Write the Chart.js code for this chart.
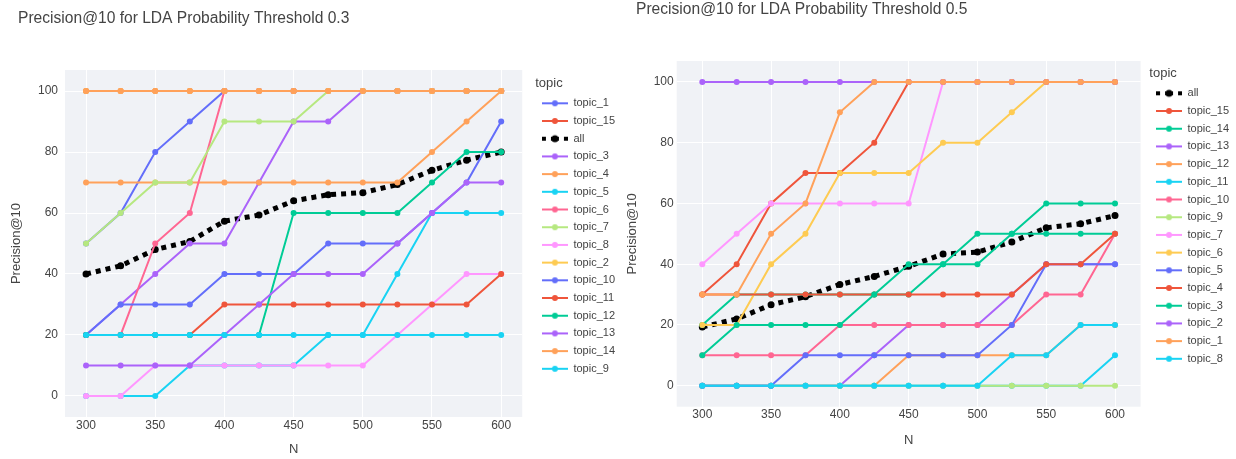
<!DOCTYPE html>
<html>
<head>
<meta charset="utf-8">
<script src="https://cdn.jsdelivr.net/npm/chart.js@4.4.0/dist/chart.umd.min.js"></script>
<style>
  html, body { margin: 0; padding: 0; background: #fff; }
  body { width: 1236px; height: 459px; position: relative; overflow: hidden; }
  .panel { position: absolute; top: 0; width: 628px; height: 459px; }
  #left { left: 0; }
  #right { left: 618px; }
</style>
</head>
<body>
<div class="panel" id="left"><canvas id="chart03"></canvas></div>
<div class="panel" id="right"><canvas id="chart05"></canvas></div>
<script>
// x categories (N) and tick labels
const nValues = [300, 325, 350, 375, 400, 425, 450, 475, 500, 525, 550, 575, 600];
const xTicks = [300, 350, 400, 450, 500, 550, 600];
const yTicks = [0, 20, 40, 60, 80, 100];

// threshold 0.3
const thr03_all = [40, 42.67, 48, 50.67, 57.33, 59.33, 64, 66, 66.67, 69.33, 74, 77.33, 80];
const thr03_topic_1 = [50, 60, 80, 90, 100, 100, 100, 100, 100, 100, 100, 100, 100];
const thr03_topic_15 = [100, 100, 100, 100, 100, 100, 100, 100, 100, 100, 100, 100, 100];
const thr03_topic_3 = [20, 30, 40, 50, 50, 70, 90, 90, 100, 100, 100, 100, 100];
const thr03_topic_4 = [70, 70, 70, 70, 70, 70, 70, 70, 70, 70, 80, 90, 100];
const thr03_topic_5 = [0, 0, 0, 10, 10, 10, 10, 20, 20, 40, 60, 60, 60];
const thr03_topic_6 = [20, 20, 50, 60, 100, 100, 100, 100, 100, 100, 100, 100, 100];
const thr03_topic_7 = [50, 60, 70, 70, 90, 90, 90, 100, 100, 100, 100, 100, 100];
const thr03_topic_8 = [0, 0, 10, 10, 10, 10, 10, 10, 10, 20, 30, 40, 40];
const thr03_topic_2 = [100, 100, 100, 100, 100, 100, 100, 100, 100, 100, 100, 100, 100];
const thr03_topic_10 = [20, 30, 30, 30, 40, 40, 40, 50, 50, 50, 60, 70, 90];
const thr03_topic_11 = [20, 20, 20, 20, 30, 30, 30, 30, 30, 30, 30, 30, 40];
const thr03_topic_12 = [20, 20, 20, 20, 20, 20, 60, 60, 60, 60, 70, 80, 80];
const thr03_topic_13 = [10, 10, 10, 10, 20, 30, 40, 40, 40, 50, 60, 70, 70];
const thr03_topic_14 = [100, 100, 100, 100, 100, 100, 100, 100, 100, 100, 100, 100, 100];
const thr03_topic_9 = [20, 20, 20, 20, 20, 20, 20, 20, 20, 20, 20, 20, 20];

// threshold 0.5
const thr05_all = [19.33, 22, 26.67, 29.33, 33.33, 36, 39.33, 43.33, 44, 47.33, 52, 53.33, 56];
const thr05_topic_15 = [30, 40, 60, 70, 70, 80, 100, 100, 100, 100, 100, 100, 100];
const thr05_topic_14 = [20, 30, 30, 30, 30, 30, 30, 40, 50, 50, 50, 50, 50];
const thr05_topic_13 = [0, 0, 0, 0, 0, 10, 20, 20, 20, 30, 40, 40, 40];
const thr05_topic_12 = [0, 0, 0, 0, 0, 0, 10, 10, 10, 10, 10, 20, 20];
const thr05_topic_11 = [0, 0, 0, 0, 0, 0, 0, 0, 0, 0, 0, 0, 10];
const thr05_topic_10 = [10, 10, 10, 10, 20, 20, 20, 20, 20, 20, 30, 30, 50];
const thr05_topic_9 = [0, 0, 0, 0, 0, 0, 0, 0, 0, 0, 0, 0, 0];
const thr05_topic_7 = [40, 50, 60, 60, 60, 60, 60, 100, 100, 100, 100, 100, 100];
const thr05_topic_6 = [20, 20, 40, 50, 70, 70, 70, 80, 80, 90, 100, 100, 100];
const thr05_topic_5 = [0, 0, 0, 10, 10, 10, 10, 10, 10, 20, 40, 40, 40];
const thr05_topic_4 = [30, 30, 30, 30, 30, 30, 30, 30, 30, 30, 40, 40, 50];
const thr05_topic_3 = [10, 20, 20, 20, 20, 30, 40, 40, 40, 50, 60, 60, 60];
const thr05_topic_2 = [100, 100, 100, 100, 100, 100, 100, 100, 100, 100, 100, 100, 100];
const thr05_topic_1 = [30, 30, 50, 60, 90, 100, 100, 100, 100, 100, 100, 100, 100];
const thr05_topic_8 = [0, 0, 0, 0, 0, 0, 0, 0, 0, 10, 10, 20, 20];

// legend / trace order as in the figure
const thr03_series = [
  ['topic_1', thr03_topic_1], ['topic_15', thr03_topic_15], ['all', thr03_all],
  ['topic_3', thr03_topic_3], ['topic_4', thr03_topic_4], ['topic_5', thr03_topic_5],
  ['topic_6', thr03_topic_6], ['topic_7', thr03_topic_7], ['topic_8', thr03_topic_8],
  ['topic_2', thr03_topic_2], ['topic_10', thr03_topic_10], ['topic_11', thr03_topic_11],
  ['topic_12', thr03_topic_12], ['topic_13', thr03_topic_13], ['topic_14', thr03_topic_14],
  ['topic_9', thr03_topic_9]
];
const thr05_series = [
  ['all', thr05_all], ['topic_15', thr05_topic_15], ['topic_14', thr05_topic_14],
  ['topic_13', thr05_topic_13], ['topic_12', thr05_topic_12], ['topic_11', thr05_topic_11],
  ['topic_10', thr05_topic_10], ['topic_9', thr05_topic_9], ['topic_7', thr05_topic_7],
  ['topic_6', thr05_topic_6], ['topic_5', thr05_topic_5], ['topic_4', thr05_topic_4],
  ['topic_3', thr05_topic_3], ['topic_2', thr05_topic_2], ['topic_1', thr05_topic_1],
  ['topic_8', thr05_topic_8]
];

const palette = ['#636efa', '#EF553B', '#00cc96', '#ab63fa', '#FFA15A', '#19d3f3', '#FF6692', '#B6E880', '#FF97FF', '#FECB52'];
const FONT = '"Liberation Sans", Arial, sans-serif';
const TEXT = '#444';
const PLOT_BG = '#f0f2f6';

function legendSymbol(color, isAll) {
  const c = document.createElement('canvas');
  c.width = 26;
  c.height = 12;
  const g = c.getContext('2d');
  g.fillStyle = color;
  g.strokeStyle = color;
  if (isAll) {
    g.fillRect(0, 4, 4, 4);
    g.fillRect(9, 4, 8, 4);
    g.beginPath(); g.arc(13, 6, 3.5, 0, Math.PI * 2); g.fill();
    g.fillRect(22, 4, 4, 4);
  } else {
    g.lineWidth = 2;
    g.beginPath(); g.moveTo(0, 6); g.lineTo(26, 6); g.stroke();
    g.beginPath(); g.arc(13, 6, 3, 0, Math.PI * 2); g.fill();
  }
  return c;
}

const plotBg = {
  id: 'plotBg',
  beforeDraw(chart) {
    const a = chart.chartArea;
    chart.ctx.save();
    chart.ctx.fillStyle = PLOT_BG;
    chart.ctx.fillRect(a.left, a.top, a.right - a.left, a.bottom - a.top);
    chart.ctx.restore();
  }
};

const panelTitle = {
  id: 'panelTitle',
  afterDraw(chart, args, opts) {
    const ctx = chart.ctx;
    ctx.save();
    ctx.font = '15.6px ' + FONT;
    ctx.fillStyle = TEXT;
    ctx.textBaseline = 'middle';
    ctx.fillText(opts.text, opts.x, opts.y);
    ctx.restore();
  }
};

function makeChart(id, series, title, box) {
  const symbols = [];
  const datasets = series.map(([name, values], i) => {
    const isAll = name === 'all';
    const color = isAll ? '#000000' : palette[i % palette.length];
    symbols.push(legendSymbol(color, isAll));
    return {
      label: name,
      data: nValues.map((n, k) => ({ x: n, y: values[k] })),
      borderColor: color,
      backgroundColor: color,
      borderWidth: isAll ? 5 : 2,
      borderDash: isAll ? [5, 5] : [],
      pointRadius: isAll ? 3.5 : 3,
      pointBorderWidth: 0,
      pointBackgroundColor: color,
      tension: 0,
      order: -i
    };
  });

  return new Chart(document.getElementById(id), {
    type: 'line',
    data: { datasets },
    plugins: [plotBg, panelTitle],
    options: {
      responsive: true,
      maintainAspectRatio: false,
      animation: false,
      layout: { padding: { top: box.top, right: box.padRight, bottom: 0, left: 0 } },
      scales: {
        x: {
          type: 'linear',
          min: box.xMin,
          max: box.xMax,
          afterBuildTicks: s => { s.ticks = xTicks.map(v => ({ value: v })); },
          afterFit: s => { s.height = box.xAxisH; },
          grid: { color: '#ffffff', lineWidth: 1, drawTicks: false },
          border: { display: false },
          ticks: { color: TEXT, font: { family: FONT, size: 12 }, padding: 1, maxRotation: 0 },
          title: { display: true, text: 'N', color: TEXT, font: { family: FONT, size: 13 }, padding: { top: 0, bottom: box.nPad } }
        },
        y: {
          type: 'linear',
          min: -6.9,
          max: 106.9,
          afterBuildTicks: s => { s.ticks = yTicks.map(v => ({ value: v })); },
          afterFit: s => { s.width = box.left; },
          grid: { color: '#ffffff', lineWidth: 1, drawTicks: false },
          border: { display: false },
          ticks: { color: TEXT, font: { family: FONT, size: 12 }, padding: box.yTickPad },
          title: { display: true, text: 'Precision@10', color: TEXT, font: { family: FONT, size: 13 }, padding: { top: box.yTitlePad, bottom: 0 } }
        },
        gap: {
          type: 'linear',
          position: 'right',
          display: true,
          afterFit: s => { s.width = box.gap; },
          grid: { display: false },
          border: { display: false },
          ticks: { display: false }
        }
      },
      plugins: {
        panelTitle: { text: title, x: box.titleX, y: box.titleY },
        tooltip: { enabled: false },
        legend: {
          position: 'right',
          align: 'start',
          title: {
            display: true,
            text: 'topic',
            position: 'start',
            color: TEXT,
            font: { family: FONT, size: 13 },
            padding: { top: box.legendTitleTop, bottom: -1 }
          },
          labels: {
            color: TEXT,
            font: { family: FONT, size: 11 },
            usePointStyle: true,
            pointStyleWidth: 26,
            padding: 6.7,
            sort: (a, b) => a.datasetIndex - b.datasetIndex,
            generateLabels: chart => {
              const items = Chart.defaults.plugins.legend.labels.generateLabels(chart);
              items.forEach(it => { it.pointStyle = symbols[it.datasetIndex]; });
              return items;
            }
          }
        }
      }
    }
  });
}

makeChart('chart03', thr03_series, 'Precision@10 for LDA Probability Threshold 0.3', {
  top: 70, left: 65, xAxisH: 42, gap: 13, padRight: 3,
  xMin: 284.8, xMax: 615.2, nPad: 1.6, yTickPad: 7, yTitlePad: 8.2,
  titleX: 18, titleY: 19, legendTitleTop: 6.5
});

makeChart('chart05', thr05_series, 'Precision@10 for LDA Probability Threshold 0.5', {
  top: 61, left: 58.7, xAxisH: 52.3, gap: 8.7, padRight: 6.9,
  xMin: 281.4, xMax: 618.6, nPad: 10.6, yTickPad: 3, yTitlePad: 6.2,
  titleX: 18, titleY: 10, legendTitleTop: 5.5
});
</script>
</body>
</html>
